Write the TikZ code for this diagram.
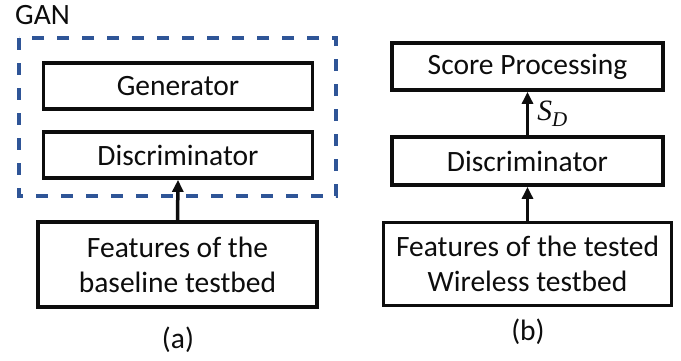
\documentclass[tikz,border=0pt]{standalone}
\usepackage{fontspec}
\setmainfont{Carlito}
\newfontfamily\sdfont{Liberation Serif}
\usetikzlibrary{arrows.meta}
\definecolor{ganblue}{HTML}{2F5597}
\definecolor{ink}{HTML}{0D0D0D}
\begin{document}
\begin{tikzpicture}[x=1pt,y=-1pt,
  font=\fontsize{29.5}{35}\selectfont,
  text=ink,
  box/.style={draw=ink,line width=3.8pt,align=center,inner sep=0pt},
  conn/.style={draw=ink,line width=3.5pt,-{Triangle[length=12pt,width=11pt]}},
  lbl/.style={inner sep=0pt}]
\useasboundingbox[fill=white] (0,0) rectangle (681,360);
% (a)
\node[box,minimum width=269pt,minimum height=46pt] (gen) at (178,86) {Generator};
\node[box,minimum width=269pt,minimum height=46pt] (disa) at (178,155) {Discriminator};
\node[box,minimum width=279pt,minimum height=85pt] (feaa) at (177.5,264.5) {Features of the\\baseline testbed};
\coordinate (gtl) at (19,38);
\coordinate (gbr) at (336,196);
\draw[ganblue,line width=3.6pt,dash pattern=on 12pt off 13pt] (gtl) rectangle (gbr);
\node[lbl,anchor=west] (gan) at (15,15) {GAN};
\draw[conn] (feaa.north) -- (disa.south);
\node[lbl] (capa) at (178,340) {(a)};
% (b)
\node[box,minimum width=271pt,minimum height=47pt] (score) at (527.5,66.5) {Score Processing};
\node[box,minimum width=271pt,minimum height=48pt] (disb) at (527.5,161) {Discriminator};
\node[box,minimum width=288pt,minimum height=83pt] (feab) at (527.5,264) {Features of the tested\\Wireless testbed};
\draw[conn] (feab.north) -- (disb.south);
\draw[conn] (disb.north) -- node[right,inner sep=0pt,xshift=8pt] (sd) {\sdfont\itshape S\raisebox{-6pt}{\fontsize{21}{21}\selectfont D}} (score.south);
\node[lbl] (capb) at (528,332) {(b)};
\end{tikzpicture}
\end{document}
